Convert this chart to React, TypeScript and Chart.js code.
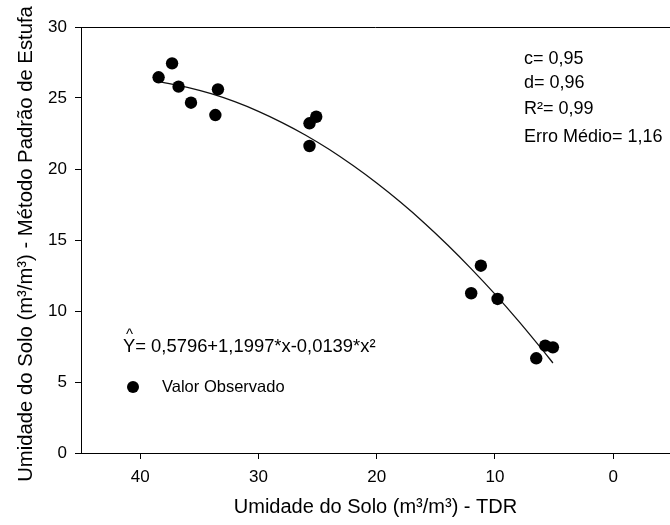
import React, { useEffect, useRef } from 'react';
import { Chart, registerables } from 'chart.js';

Chart.register(...registerables);

// Observed points (TDR, oven method)
const observedX = [38.44, 37.3, 36.75, 35.7, 33.42, 33.64, 25.11, 25.68, 25.68, 11.19, 12.01, 9.78, 5.75, 5.1, 6.51];
const observedY = [26.46, 27.44, 25.8, 24.67, 25.61, 23.8, 23.68, 23.22, 21.62, 13.19, 11.25, 10.85, 7.56, 7.44, 6.67];

// Fitted curve
const fitX = [38.4, 36, 34, 32, 30, 28, 26, 24, 22, 20, 18, 16, 14, 12, 10, 8, 6, 5.1];
const fitY = [26.15, 25.75, 25.3, 24.74, 24.06, 23.27, 22.38, 21.37, 20.24, 19.01, 17.67, 16.22, 14.65, 12.97, 11.19, 9.29, 7.28, 6.34];

const xTickValues = [40, 30, 20, 10, 0];
const yTickValues = [0, 5, 10, 15, 20, 25, 30];

const statLabels = ['c= 0,95', 'd= 0,96', 'R²= 0,99', 'Erro Médio= 1,16'];
const equationText = 'Y= 0,5796+1,1997*x-0,0139*x²';
const legendLabel = 'Valor Observado';
const xTitle = 'Umidade do Solo (m³/m³) - TDR';
const yTitle = 'Umidade do Solo (m³/m³) - Método Padrão de Estufa';

const FONT = '"Liberation Sans", Arial, Helvetica, sans-serif';

const overlayPlugin = {
  id: 'overlay',
  afterDraw(chart: any) {
    const { ctx, chartArea } = chart;
    ctx.save();
    ctx.fillStyle = '#000';
    ctx.strokeStyle = '#000';
    // top frame line
    ctx.lineWidth = 1;
    ctx.beginPath();
    ctx.moveTo(chartArea.left, Math.round(chartArea.top) + 0.5);
    ctx.lineTo(chartArea.right, Math.round(chartArea.top) + 0.5);
    ctx.stroke();

    // stats
    ctx.font = `18px ${FONT}`;
    ctx.textAlign = 'left';
    ctx.textBaseline = 'alphabetic';
    const statBase = [63.5, 88, 113.5, 142];
    statLabels.forEach((s, i) => ctx.fillText(s, 524, statBase[i]));

    // equation
    ctx.font = `18.4px ${FONT}`;
    ctx.fillText(equationText, 123, 352);
    ctx.font = `15px ${FONT}`;
    ctx.textAlign = 'center';
    ctx.fillText('^', 129.5, 338.5);

    // legend
    ctx.beginPath();
    ctx.arc(133, 387, 6, 0, Math.PI * 2);
    ctx.fill();
    ctx.font = `16.5px ${FONT}`;
    ctx.textAlign = 'left';
    ctx.fillText(legendLabel, 162, 392);

    // y title
    ctx.font = `20.3px ${FONT}`;
    ctx.translate(26, 244);
    ctx.rotate(-Math.PI / 2);
    ctx.textAlign = 'center';
    ctx.textBaseline = 'middle';
    ctx.fillText(yTitle, 0, 0);
    ctx.restore();
  },
};

export default function App() {
  const ref = useRef<HTMLCanvasElement>(null);
  useEffect(() => {
    if (!ref.current) return;
    const chart = new Chart(ref.current, {
      type: 'scatter',
      data: {
        datasets: [
          {
            label: legendLabel,
            data: observedX.map((x, i) => ({ x, y: observedY[i] })),
            backgroundColor: '#000',
            borderColor: '#000',
            borderWidth: 0,
            pointRadius: 6.2,
            pointHoverRadius: 6.2,
            showLine: false,
          },
          {
            label: 'fit',
            data: fitX.map((x, i) => ({ x, y: fitY[i] })),
            borderColor: '#111',
            borderWidth: 1.3,
            pointRadius: 0,
            showLine: true,
            tension: 0.3,
            fill: false,
          },
        ],
      },
      options: {
        responsive: false,
        animation: false,
        devicePixelRatio: 1,
        layout: { autoPadding: false, padding: { top: 27, left: 0, right: 0, bottom: 0 } },
        plugins: { legend: { display: false }, tooltip: { enabled: false } },
        scales: {
          x: {
            type: 'linear',
            reverse: true,
            min: -4.8,
            max: 45,
            afterBuildTicks: (scale: any) => {
              scale.ticks = xTickValues.map((v) => ({ value: v }));
            },
            afterFit: (scale: any) => {
              scale.height = 72;
              scale.paddingLeft = 0;
              scale.paddingRight = 0;
            },
            grid: { drawOnChartArea: false, drawTicks: true, tickLength: 6, color: '#000', lineWidth: 1 },
            border: { display: true, color: '#000', width: 1 },
            ticks: { color: '#000', padding: 8, font: { family: FONT, size: 17 }, maxRotation: 0 },
            title: { display: true, text: xTitle, color: '#000', font: { family: FONT, size: 20 }, padding: { top: 0, bottom: 6 } },
          },
          y: {
            type: 'linear',
            min: 0,
            max: 30,
            afterBuildTicks: (scale: any) => {
              scale.ticks = yTickValues.map((v) => ({ value: v }));
            },
            afterFit: (scale: any) => {
              scale.width = 81;
              scale.paddingTop = 0;
              scale.paddingBottom = 0;
            },
            grid: { drawOnChartArea: false, drawTicks: true, tickLength: 6, color: '#000', lineWidth: 1 },
            border: { display: true, color: '#000', width: 1 },
            ticks: { color: '#000', padding: 8, font: { family: FONT, size: 17 } },
            title: { display: false },
          },
        },
      },
      plugins: [overlayPlugin],
    });
    return () => chart.destroy();
  }, []);
  return (
    <div style={{ position: 'fixed', left: 0, top: 0, width: 670, height: 525, background: '#fff' }}>
      <canvas ref={ref} width={670} height={525} style={{ display: 'block' }} />
    </div>
  );
}
